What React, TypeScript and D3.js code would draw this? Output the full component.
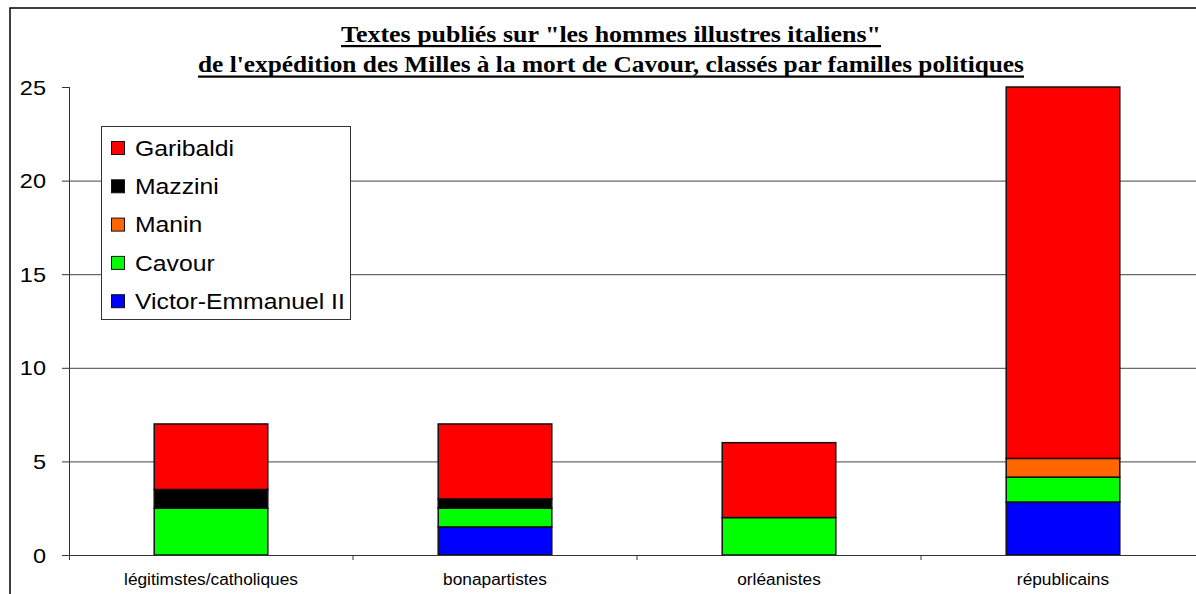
import { useEffect, useRef } from "react";
import * as d3 from "d3";

const W = 1196;
const H = 594;
const MARGIN = { top: 87, right: -9, bottom: 39, left: 69 };

const categories = ["légitimstes/catholiques", "bonapartistes", "orléanistes", "républicains"];
const seriesNames = ["Victor-Emmanuel II", "Cavour", "Manin", "Mazzini", "Garibaldi"];
const seriesColors = ["#0000ff", "#00ff00", "#ff6600", "#000000", "#ff0000"];
const victorEmmanuel = [0, 1.5, 0, 2.83];
const cavour = [2.5, 1, 2, 1.33];
const manin = [0, 0, 0, 1];
const mazzini = [1, 0.5, 0, 0];
const garibaldi = [3.5, 4, 4, 19.84];
const yTicks = [0, 5, 10, 15, 20, 25];
const titleLines = [
  "Textes publiés sur \"les hommes illustres italiens\"",
  "de l'expédition des Milles à la mort de Cavour, classés par familles politiques",
];

const SANS = "'Liberation Sans', Arial, sans-serif";
const SERIF = "'Liberation Serif', 'Times New Roman', serif";

// stretch text horizontally a bit, the original renders Arial wider
function widen(sel: d3.Selection<any, any, any, any>, k: number) {
  sel.each(function () {
    const el = this as SVGTextElement;
    const w = el.getComputedTextLength();
    d3.select(el).attr("textLength", w * k).attr("lengthAdjust", "spacingAndGlyphs");
  });
}

export default function App() {
  const ref = useRef<SVGSVGElement>(null);

  useEffect(() => {
    const svg = d3.select(ref.current);
    svg.selectAll("*").remove();

    const x0 = MARGIN.left;
    const x1 = W - MARGIN.right;
    const y0 = H - MARGIN.bottom;
    const y1 = MARGIN.top;

    const x = d3.scaleBand().domain(categories).range([x0, x1]).paddingInner(0.6).paddingOuter(0.3);
    const y = d3.scaleLinear().domain([0, 25]).range([y0, y1]);

    // outer frame
    svg.append("rect").attr("x", 10).attr("y", 8).attr("width", W + 20).attr("height", H + 20)
      .attr("fill", "white").attr("stroke", "#000").attr("stroke-width", 1.5);

    // grid
    svg.append("g").selectAll("line").data(yTicks.filter((t) => t > 0 && t < 25)).join("line")
      .attr("x1", x0).attr("x2", x1).attr("y1", (d) => y(d) + 0.5).attr("y2", (d) => y(d) + 0.5)
      .attr("stroke", "#444").attr("stroke-width", 1);

    // bars
    const table = categories.map((c, i) => ({
      cat: c,
      "Victor-Emmanuel II": victorEmmanuel[i],
      Cavour: cavour[i],
      Manin: manin[i],
      Mazzini: mazzini[i],
      Garibaldi: garibaldi[i],
    }));
    const stacked = d3.stack<any>().keys(seriesNames)(table);
    svg.append("g").selectAll("g").data(stacked).join("g")
      .attr("fill", (_, i) => seriesColors[i])
      .selectAll("rect").data((s) => s.filter((d) => d[1] - d[0] > 0)).join("rect")
      .attr("x", (d: any) => x(d.data.cat)!)
      .attr("width", x.bandwidth())
      .attr("y", (d) => y(d[1]))
      .attr("height", (d) => y(d[0]) - y(d[1]))
      .attr("stroke", "#111").attr("stroke-width", 1.5);

    // axes
    const ax = svg.append("g").attr("stroke", "#333").attr("stroke-width", 1);
    ax.append("line").attr("x1", x0 + 0.5).attr("x2", x0 + 0.5).attr("y1", y1).attr("y2", y0 + 5);
    ax.append("line").attr("x1", x0).attr("x2", x1).attr("y1", y0 + 0.5).attr("y2", y0 + 0.5);
    ax.selectAll(".yt").data(yTicks).join("line").attr("class", "yt")
      .attr("x1", x0 - 7).attr("x2", x0).attr("y1", (d) => y(d) + 0.5).attr("y2", (d) => y(d) + 0.5);
    const step = x.step();
    const bounds = categories.slice(1).map((c) => x(c)! - (step - x.bandwidth()) / 2);
    ax.selectAll(".xt").data(bounds).join("line").attr("class", "xt")
      .attr("x1", (d) => d).attr("x2", (d) => d).attr("y1", y0).attr("y2", y0 + 5);

    const yl = svg.append("g").selectAll("text").data(yTicks).join("text")
      .attr("x", 46).attr("y", (d) => y(d)).attr("dy", "0.36em")
      .attr("text-anchor", "end").attr("font-family", SANS).attr("font-size", 21)
      .text((d) => d);
    widen(yl, 1.12);

    const xl = svg.append("g").selectAll("text").data(categories).join("text")
      .attr("x", (d) => x(d)! + x.bandwidth() / 2).attr("y", 585)
      .attr("text-anchor", "middle").attr("font-family", SANS).attr("font-size", 16)
      .text((d) => d);
    widen(xl, 1.08);

    // title
    const tl = [
      { y: 42, w: 540, u: 46 },
      { y: 72, w: 826, u: 76.5 },
    ];
    titleLines.forEach((t, i) => {
      const cx = 611;
      svg.append("text").attr("x", cx).attr("y", tl[i].y).attr("text-anchor", "middle")
        .attr("font-family", SERIF).attr("font-weight", "bold").attr("font-size", 24)
        .attr("textLength", tl[i].w).attr("lengthAdjust", "spacingAndGlyphs").text(t);
      svg.append("rect").attr("x", cx - tl[i].w / 2).attr("y", tl[i].u - 1).attr("width", tl[i].w)
        .attr("height", 2.2).attr("fill", "#000");
    });

    // legend
    const lg = svg.append("g");
    lg.append("rect").attr("x", 101.5).attr("y", 126.5).attr("width", 249).attr("height", 193)
      .attr("fill", "white").attr("stroke", "#333").attr("stroke-width", 1);
    const legendOrder = seriesNames.map((n, i) => ({ n, c: seriesColors[i] })).reverse();
    const row = lg.selectAll("g").data(legendOrder).join("g")
      .attr("transform", (_, i) => `translate(0,${148 + i * 38.3})`);
    row.append("rect").attr("x", 111.5).attr("y", -6.5).attr("width", 13).attr("height", 13)
      .attr("fill", (d) => d.c).attr("stroke", "#111").attr("stroke-width", 1);
    const lt = row.append("text").attr("x", 135).attr("y", 0).attr("dy", "0.36em")
      .attr("font-family", SANS).attr("font-size", 21.5).text((d) => d.n);
    widen(lt, 1.15);
  }, []);

  return (
    <div style={{ position: "absolute", left: 0, top: 0 }}>
      <svg ref={ref} width={W} height={H} style={{ display: "block", background: "white" }} />
    </div>
  );
}
